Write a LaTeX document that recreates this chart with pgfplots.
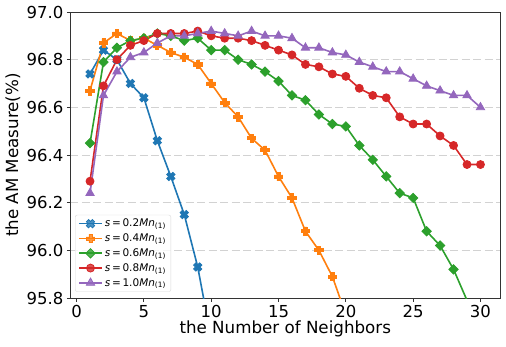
\documentclass[border=0pt]{standalone}
\usepackage{fontspec}
\setmainfont{DejaVu Sans}
\usepackage{pgfplots}
\pgfplotsset{compat=1.18}

\definecolor{tabblue}{HTML}{1F77B4}
\definecolor{taborange}{HTML}{FF7F0E}
\definecolor{tabgreen}{HTML}{2CA02C}
\definecolor{tabred}{HTML}{D62728}
\definecolor{tabpurple}{HTML}{9467BD}

% filled plus (matplotlib 'P') and filled cross ('X')
\pgfdeclareplotmark{Pfill}{%
  \pgfmathsetlengthmacro{\ra}{\pgfplotmarksize}%
  \pgfmathsetlengthmacro{\rb}{0.36*\pgfplotmarksize}%
  \pgfpathmoveto{\pgfqpoint{-\rb}{\ra}}%
  \pgfpathlineto{\pgfqpoint{\rb}{\ra}}%
  \pgfpathlineto{\pgfqpoint{\rb}{\rb}}%
  \pgfpathlineto{\pgfqpoint{\ra}{\rb}}%
  \pgfpathlineto{\pgfqpoint{\ra}{-\rb}}%
  \pgfpathlineto{\pgfqpoint{\rb}{-\rb}}%
  \pgfpathlineto{\pgfqpoint{\rb}{-\ra}}%
  \pgfpathlineto{\pgfqpoint{-\rb}{-\ra}}%
  \pgfpathlineto{\pgfqpoint{-\rb}{-\rb}}%
  \pgfpathlineto{\pgfqpoint{-\ra}{-\rb}}%
  \pgfpathlineto{\pgfqpoint{-\ra}{\rb}}%
  \pgfpathlineto{\pgfqpoint{-\rb}{\rb}}%
  \pgfpathclose
  \pgfusepathqfillstroke}
\pgfdeclareplotmark{Xfill}{%
  \pgftransformrotate{45}%
  \pgfuseplotmark{Pfill}}

\newcommand{\sval}[1]{\textit{s}\,=\,#1\textit{Mn}\textsubscript{(1)}}

\begin{document}
\begin{tikzpicture}
\begin{axis}[
    scale only axis,
    width=429.5pt, height=286pt,
    xmin=-0.45, xmax=31.45,
    ymin=95.8, ymax=97.0,
    xtick={0,5,...,30},
    ytick={95.8,96.0,...,97.0},
    yticklabel style={/pgf/number format/fixed, /pgf/number format/precision=1, /pgf/number format/fixed zerofill},
    /pgf/number format/assume math mode=true,
    tick label style={font=\fontsize{16.5}{19}\selectfont},
    label style={font=\fontsize{16.7}{19}\selectfont},
    xlabel={the Number of Neighbors},
    ylabel={the AM Measure(\%)},
    xlabel style={at={(axis description cs:0.5,-0.108)}, anchor=center},
    ylabel style={at={(axis description cs:-0.134,0.5)}, anchor=center, rotate=0},
    tick align=outside, tick pos=left,
    major tick length=3.5pt,
    axis line style={black!80, line width=0.8pt},
    every tick/.style={black!80, line width=0.8pt},
    ymajorgrids,
    major grid style={gray!35, line width=1pt, dash pattern=on 8pt off 3.5pt},
    every axis plot/.append style={line width=1.6pt},
    legend cell align=left,
    legend style={at={(0.0105,0.022)}, anchor=south west, draw=gray!30, rounded corners=2pt,
        fill=white, fill opacity=0.8, text opacity=1,
        font=\fontsize{10.5}{12}\selectfont, row sep=1.5pt, inner xsep=3pt, inner ysep=2pt},
    legend image code/.code={\draw[mark repeat=2,mark phase=2] plot coordinates {(0pt,0pt) (11.5pt,0pt) (23pt,0pt)};},
]
% s = 0.2 Mn(1)
\addplot[color=tabblue, mark=Xfill, mark size=4.3pt, mark options={fill=tabblue, line width=0.8pt}] coordinates {
    (1,96.74) (2,96.84) (3,96.80) (4,96.70) (5,96.64) (6,96.46) (7,96.31) (8,96.15) (9,95.93) (10,95.63)
};
% s = 0.4 Mn(1)
\addplot[color=taborange, mark=Pfill, mark size=4.3pt, mark options={fill=taborange, line width=0.8pt}] coordinates {
    (1,96.67) (2,96.87) (3,96.91) (4,96.88) (5,96.89) (6,96.86) (7,96.83) (8,96.81) (9,96.78) (10,96.70)
    (11,96.62) (12,96.56) (13,96.47) (14,96.42) (15,96.31) (16,96.22) (17,96.08) (18,96.00) (19,95.89) (20,95.73)
};
% s = 0.6 Mn(1)
\addplot[color=tabgreen, mark=square*, mark size=3.3pt, mark options={rotate=45, fill=tabgreen, line width=0.8pt}] coordinates {
    (1,96.45) (2,96.79) (3,96.85) (4,96.88) (5,96.89) (6,96.91) (7,96.90) (8,96.88) (9,96.89) (10,96.84)
    (11,96.84) (12,96.80) (13,96.78) (14,96.75) (15,96.71) (16,96.65) (17,96.63) (18,96.57) (19,96.53) (20,96.52)
    (21,96.44) (22,96.38) (23,96.31) (24,96.24) (25,96.22) (26,96.08) (27,96.02) (28,95.92) (29,95.79) (30,95.66)
};
% s = 0.8 Mn(1)
\addplot[color=tabred, mark=*, mark size=4pt, mark options={fill=tabred, line width=0.8pt}] coordinates {
    (1,96.29) (2,96.69) (3,96.80) (4,96.86) (5,96.88) (6,96.91) (7,96.91) (8,96.91) (9,96.92) (10,96.90)
    (11,96.89) (12,96.89) (13,96.88) (14,96.86) (15,96.84) (16,96.82) (17,96.78) (18,96.77) (19,96.74) (20,96.73)
    (21,96.68) (22,96.65) (23,96.64) (24,96.56) (25,96.53) (26,96.53) (27,96.48) (28,96.44) (29,96.36) (30,96.36)
};
% s = 1.0 Mn(1)
\addplot[color=tabpurple, mark=triangle*, mark size=4.8pt, mark options={fill=tabpurple, line width=0.8pt}] coordinates {
    (1,96.24) (2,96.65) (3,96.75) (4,96.81) (5,96.83) (6,96.87) (7,96.90) (8,96.90) (9,96.91) (10,96.92)
    (11,96.91) (12,96.90) (13,96.92) (14,96.90) (15,96.90) (16,96.89) (17,96.85) (18,96.85) (19,96.83) (20,96.82)
    (21,96.79) (22,96.77) (23,96.75) (24,96.75) (25,96.72) (26,96.69) (27,96.67) (28,96.65) (29,96.65) (30,96.60)
};
\legend{\sval{0.2}, \sval{0.4}, \sval{0.6}, \sval{0.8}, \sval{1.0}}
\end{axis}
\pgfresetboundingbox
\path (current axis.south west) ++(-70.5pt,-48pt) rectangle ++(506pt,346pt);
\end{tikzpicture}
\end{document}
